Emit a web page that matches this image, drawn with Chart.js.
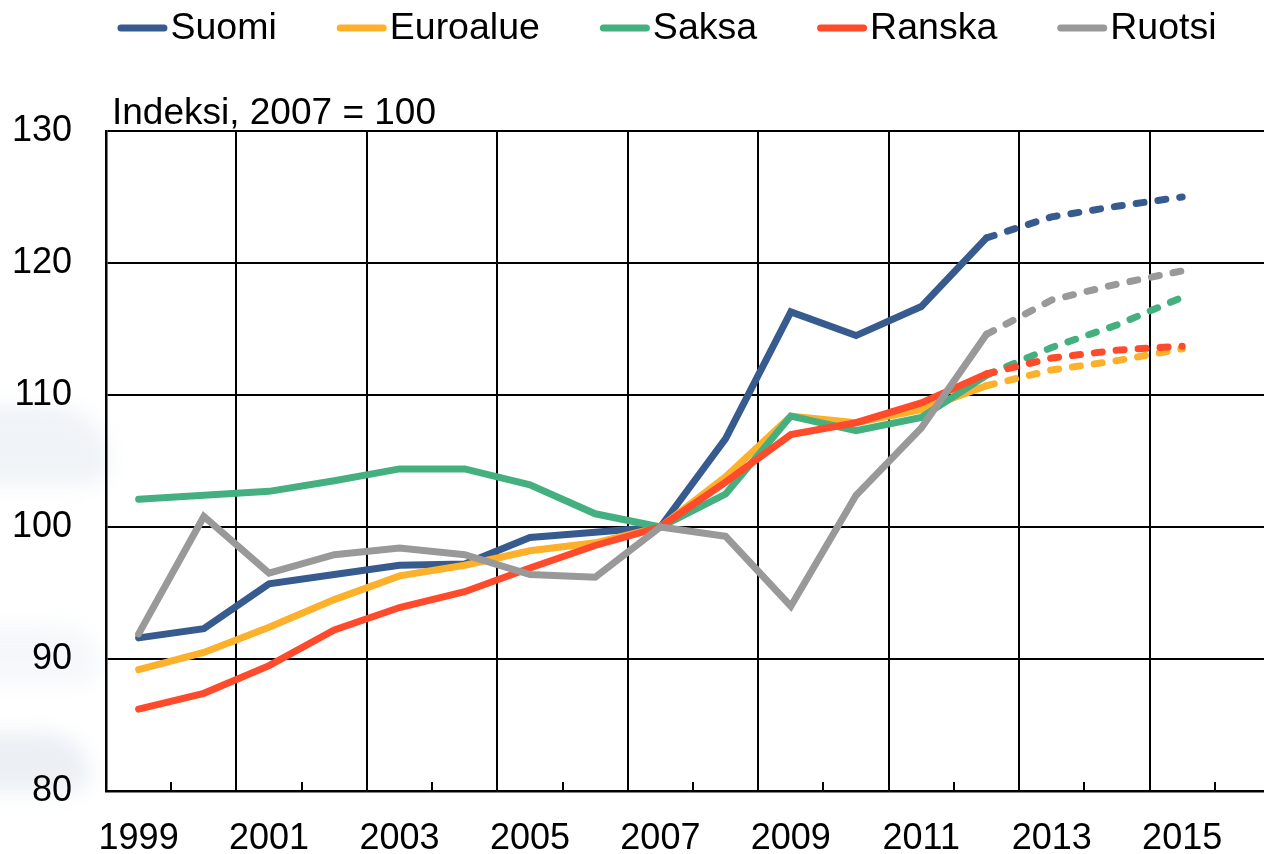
<!DOCTYPE html>
<html>
<head>
<meta charset="utf-8">
<script src="https://cdn.jsdelivr.net/npm/chart.js@4.4.1/dist/chart.umd.min.js"></script>
<style>
  html, body { margin:0; padding:0; background:#fff; width:1264px; height:854px; overflow:hidden; }
  #wrap { position:relative; width:1330px; height:854px; }
  .wm { position:absolute; background:#e4eaf1; filter:blur(10px); }
  canvas { position:absolute; left:0; top:0; }
</style>
</head>
<body>
<div id="wrap">
  <div class="wm" style="left:-60px;top:405px;width:170px;height:80px;border-radius:0 80px 30px 0;opacity:0.55"></div>
  <div class="wm" style="left:-60px;top:625px;width:160px;height:60px;border-radius:0 60px 30px 0;opacity:0.35"></div>
  <div class="wm" style="left:-60px;top:732px;width:150px;height:60px;border-radius:0 50px 20px 0;opacity:0.7"></div>
  <canvas id="c" width="1330" height="854"></canvas>
</div>
<script>
// ---- data ----
const years = ['1999','2000','2001','2002','2003','2004','2005','2006','2007','2008','2009','2010','2011','2012','2013','2014','2015','2016'];
const seriesNames = ['Suomi','Euroalue','Saksa','Ranska','Ruotsi'];
const suomi    = [91.6, 92.3, 95.7, 96.4, 97.1, 97.2, 99.2, 99.6, 100, 106.7, 116.3, 114.5, 116.7, 121.9, 123.5, 124.3, 125.0];
const euroalue = [89.2, 90.5, 92.4, 94.5, 96.3, 97.1, 98.2, 98.8, 100, 103.8, 108.4, 107.9, 108.9, 110.7, 111.9, 112.6, 113.5];
const saksa    = [102.1, 102.4, 102.7, 103.5, 104.4, 104.4, 103.2, 101.0, 100, 102.5, 108.4, 107.3, 108.3, 111.5, 113.6, 115.3, 117.4];
const ranska   = [86.2, 87.4, 89.5, 92.2, 93.9, 95.1, 96.9, 98.6, 100, 103.4, 107.0, 107.9, 109.4, 111.6, 112.8, 113.4, 113.7];
const ruotsi   = [91.9, 100.8, 96.5, 97.9, 98.4, 97.9, 96.4, 96.2, 100, 99.3, 94.0, 102.4, 107.5, 114.6, 117.2, 118.4, 119.4];
const forecastStartIndex = 13; // 2012 onwards dashed
const yTicks = [80, 90, 100, 110, 120, 130];
const axisTitle = 'Indeksi, 2007 = 100';

const colors = ['#375b8f', '#fdb02a', '#44b080', '#ff4b2b', '#999999'];
const FONT = '"Liberation Sans", Arial, sans-serif';

const seriesData = [suomi, euroalue, saksa, ranska, ruotsi];
const datasets = seriesData.map((d, i) => ({
  label: seriesNames[i],
  data: d,
  borderColor: colors[i],
  backgroundColor: colors[i],
  borderWidth: 7,
  borderCapStyle: 'round',
  borderJoinStyle: 'miter',
  pointRadius: 0,
  tension: 0,
  fill: false,
  order: seriesData.length - i,
  segment: {
    borderDash: ctx => ctx.p0DataIndex >= forecastStartIndex ? [8, 14] : undefined
  }
}));

const decor = {
  id: 'decor',
  beforeDatasetsDraw(chart) {
    const ctx = chart.ctx, xs = chart.scales.x, area = chart.chartArea;
    ctx.save();
    ctx.strokeStyle = '#000';
    ctx.lineWidth = 2;
    for (let i = 1; i < years.length; i++) {
      const bx = Math.round((xs.getPixelForValue(i - 1) + xs.getPixelForValue(i)) / 2);
      ctx.beginPath();
      if (i % 2 === 0) {
        ctx.moveTo(bx, area.top);
        ctx.lineTo(bx, area.bottom);
      } else {
        ctx.moveTo(bx, area.bottom);
        ctx.lineTo(bx, area.bottom - 9);
      }
      ctx.stroke();
    }
    ctx.restore();
  },
  afterDraw(chart) {
    const ctx = chart.ctx, area = chart.chartArea;
    ctx.save();
    ctx.fillStyle = '#000';
    ctx.font = '37px ' + FONT;
    ctx.textAlign = 'left';
    ctx.textBaseline = 'alphabetic';
    ctx.fillText(axisTitle, area.left + 6, area.top - 7);
    // legend
    ctx.font = '37.5px ' + FONT;
    ctx.textBaseline = 'middle';
    const items = chart.data.datasets.map(ds => ({ label: ds.label, color: ds.borderColor, w: ctx.measureText(ds.label).width }));
    const markerW = 50, textGap = 3, itemGap = 60;
    let total = 0;
    items.forEach((it, i) => { total += markerW + textGap + it.w + (i < items.length - 1 ? itemGap : 0); });
    let x = 667 - total / 2;
    const y = 28;
    items.forEach(it => {
      ctx.strokeStyle = it.color;
      ctx.lineWidth = 7;
      ctx.lineCap = 'round';
      ctx.beginPath();
      ctx.moveTo(x + 3.5, y);
      ctx.lineTo(x + markerW - 3.5, y);
      ctx.stroke();
      ctx.fillStyle = '#000';
      ctx.fillText(it.label, x + markerW + textGap, y + 1);
      x += markerW + textGap + it.w + itemGap;
    });
    ctx.restore();
  }
};

new Chart(document.getElementById('c'), {
  type: 'line',
  data: { labels: years, datasets },
  options: {
    responsive: false,
    animation: false,
    layout: { padding: { top: 131, right: 50, bottom: 0, left: 0 } },
    plugins: { legend: { display: false }, tooltip: { enabled: false }, title: { display: false } },
    scales: {
      x: {
        type: 'category',
        offset: true,
        grid: { display: false, drawTicks: false },
        border: { display: true, color: '#000', width: 2.5 },
        ticks: {
          autoSkip: false,
          maxRotation: 0,
          color: '#000',
          padding: 26,
          font: { size: 36, family: FONT },
          callback: (v, i) => (i % 2 === 0 ? years[i] : '')
        },
        afterFit: s => { s.height = 63; }
      },
      y: {
        min: yTicks[0],
        max: yTicks[yTicks.length - 1],
        afterBuildTicks: s => { s.ticks = yTicks.map(v => ({ value: v })); },
        grid: { drawTicks: false, lineWidth: 2, color: '#000' },
        border: { color: '#000', width: 2.5 },
        ticks: { color: '#000', padding: 34, font: { size: 36, family: FONT } },
        afterFit: s => { s.width = 106; }
      }
    }
  },
  plugins: [decor]
});
</script>
</body>
</html>
